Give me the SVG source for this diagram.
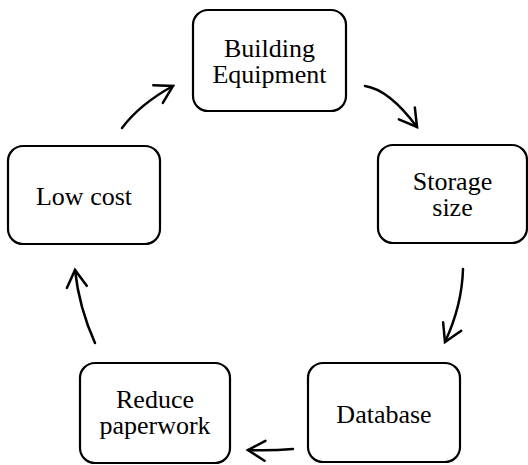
<svg xmlns="http://www.w3.org/2000/svg" width="528" height="465" viewBox="0 0 528 465">
<defs>
<style>
.box{fill:#fff;stroke:#000;stroke-width:2.2}
.lbl{font-family:"Liberation Serif","Times New Roman",serif;font-size:26px;fill:#000;text-anchor:middle}
.arr{fill:none;stroke:#000;stroke-width:2.5;stroke-linecap:round;marker-end:url(#head)}
</style>
<marker id="head" markerUnits="userSpaceOnUse" orient="auto" markerWidth="40" markerHeight="40" viewBox="-20 -20 40 40" refX="0" refY="0">
<path d="M-17,-10 L0,0 L-17,10" fill="none" stroke="#000" stroke-width="2.5" stroke-linecap="round" stroke-linejoin="miter"/>
</marker>
</defs>
<rect width="528" height="465" fill="#fff"/>
<g id="connectors">
<path class="arr" d="M122,128 Q140,104 173,86"/>
<path class="arr" d="M365,86 Q389,89.5 417,127"/>
<path class="arr" d="M463,269 Q462,305.5 445,342"/>
<path class="arr" d="M293,449 Q270,451 248,450"/>
<path class="arr" d="M95,343 Q79,307.5 75,270"/>
</g>
<g id="node-building">
<rect class="box" x="193" y="10" width="153" height="101" rx="15"/>
<text class="lbl" x="269.5" y="57">Building</text>
<text class="lbl" x="269.5" y="83">Equipment</text>
</g>
<g id="node-storage">
<rect class="box" x="378" y="145" width="149" height="98" rx="15"/>
<text class="lbl" x="452.5" y="190">Storage</text>
<text class="lbl" x="452.5" y="216">size</text>
</g>
<g id="node-database">
<rect class="box" x="308" y="363" width="152" height="99" rx="15"/>
<text class="lbl" x="384" y="423">Database</text>
</g>
<g id="node-reduce">
<rect class="box" x="80" y="363" width="150" height="100" rx="15"/>
<text class="lbl" x="155" y="408">Reduce</text>
<text class="lbl" x="155" y="434">paperwork</text>
</g>
<g id="node-lowcost">
<rect class="box" x="8" y="146" width="152" height="98" rx="15"/>
<text class="lbl" x="84" y="205">Low cost</text>
</g>
</svg>
